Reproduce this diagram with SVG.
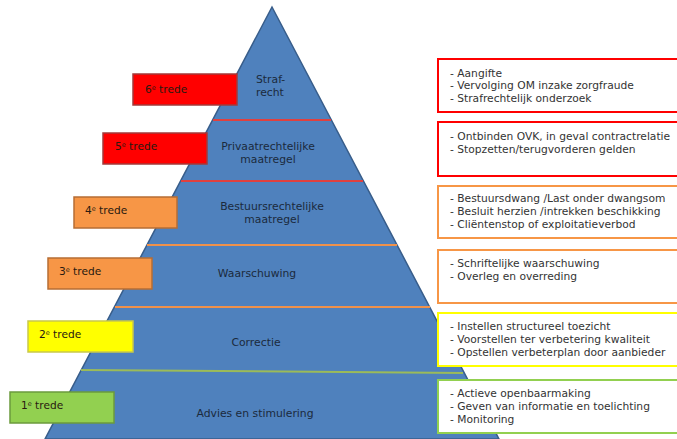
<svg xmlns="http://www.w3.org/2000/svg" width="677" height="439" viewBox="0 0 677 439">
<style>
  text { font-family: "DejaVu Sans", Verdana, sans-serif; }
  .tier { font-size: 10.8px; fill: #1b2a3c; text-anchor: middle; }
  .tag { font-size: 10.6px; fill: #2a1a10; }
  .sup { font-size: 6.5px; }
  .item { font-size: 10.7px; fill: #333333; }
  .box { fill: #ffffff; stroke-width: 2; }
</style>
<rect width="677" height="439" fill="#ffffff"/>
<g id="pyramid">
  <polygon points="272,7 45,439 499,439" fill="#4f81bd" stroke="#385d8a" stroke-width="1.5"/>
</g>
<g id="connectors">
  <line x1="213" y1="120" x2="331" y2="120" stroke="#e0403e" stroke-width="2"/>
  <line x1="181" y1="181" x2="363" y2="181" stroke="#e0403e" stroke-width="2"/>
  <line x1="147" y1="245" x2="397" y2="245" stroke="#f0914a" stroke-width="2"/>
  <line x1="115" y1="307" x2="430" y2="307" stroke="#f0914a" stroke-width="2"/>
  <line x1="81" y1="370" x2="463" y2="373" stroke="#9bbb59" stroke-width="2"/>
</g>
<g id="tier6">
  <text class="tier" x="256" y="83" style="text-anchor:start">Straf-</text>
  <text class="tier" x="256" y="96" style="text-anchor:start">recht</text>
</g>
<g id="tier5">
  <text class="tier" x="268" y="150">Privaatrechtelijke</text>
  <text class="tier" x="268" y="163">maatregel</text>
</g>
<g id="tier4">
  <text class="tier" x="272" y="210">Bestuursrechtelijke</text>
  <text class="tier" x="272" y="223">maatregel</text>
</g>
<g id="tier3"><text class="tier" x="257" y="277">Waarschuwing</text></g>
<g id="tier2"><text class="tier" x="256" y="346">Correctie</text></g>
<g id="tier1"><text class="tier" x="255" y="417">Advies en stimulering</text></g>

<g id="tag6">
  <rect x="133" y="74" width="104" height="31" fill="#ff0000" stroke="#a33a3a" stroke-width="1.5"/>
  <text class="tag" x="145" y="93">6<tspan class="sup" dy="-3.5">e</tspan><tspan dy="3.5"> trede</tspan></text>
</g>
<g id="tag5">
  <rect x="103" y="133" width="104" height="31" fill="#ff0000" stroke="#a33a3a" stroke-width="1.5"/>
  <text class="tag" x="115" y="150">5<tspan class="sup" dy="-3.5">e</tspan><tspan dy="3.5"> trede</tspan></text>
</g>
<g id="tag4">
  <rect x="74" y="197" width="103" height="31" fill="#f79646" stroke="#b66d34" stroke-width="1.5"/>
  <text class="tag" x="85" y="214">4<tspan class="sup" dy="-3.5">e</tspan><tspan dy="3.5"> trede</tspan></text>
</g>
<g id="tag3">
  <rect x="48" y="258" width="104" height="31" fill="#f79646" stroke="#b66d34" stroke-width="1.5"/>
  <text class="tag" x="59" y="275">3<tspan class="sup" dy="-3.5">e</tspan><tspan dy="3.5"> trede</tspan></text>
</g>
<g id="tag2">
  <rect x="28" y="321" width="105" height="31" fill="#ffff00" stroke="#c9c94a" stroke-width="1.5"/>
  <text class="tag" x="39" y="338">2<tspan class="sup" dy="-3.5">e</tspan><tspan dy="3.5"> trede</tspan></text>
</g>
<g id="tag1">
  <rect x="10" y="392" width="104" height="31" fill="#92d050" stroke="#6b9a3c" stroke-width="1.5"/>
  <text class="tag" x="21" y="409">1<tspan class="sup" dy="-3.5">e</tspan><tspan dy="3.5"> trede</tspan></text>
</g>

<g id="box6">
  <rect class="box" x="438" y="59" width="250" height="53" stroke="#ff0000"/>
  <text class="item" x="450" y="77">- Aangifte</text>
  <text class="item" x="450" y="89">- Vervolging OM inzake zorgfraude</text>
  <text class="item" x="450" y="102">- Strafrechtelijk onderzoek</text>
</g>
<g id="box5">
  <rect class="box" x="438" y="122" width="250" height="54" stroke="#ff0000"/>
  <text class="item" x="450" y="140">- Ontbinden OVK, in geval contractrelatie</text>
  <text class="item" x="450" y="153">- Stopzetten/terugvorderen gelden</text>
</g>
<g id="box4">
  <rect class="box" x="438" y="186" width="250" height="52" stroke="#f79646"/>
  <text class="item" x="450" y="202">- Bestuursdwang /Last onder dwangsom</text>
  <text class="item" x="450" y="215">- Besluit herzien /intrekken beschikking</text>
  <text class="item" x="450" y="228">- Cliëntenstop of exploitatieverbod</text>
</g>
<g id="box3">
  <rect class="box" x="438" y="250" width="250" height="53" stroke="#f79646"/>
  <text class="item" x="450" y="267">- Schriftelijke waarschuwing</text>
  <text class="item" x="450" y="280">- Overleg en overreding</text>
</g>
<g id="box2">
  <rect class="box" x="438" y="313" width="250" height="53" stroke="#ffff00"/>
  <text class="item" x="450" y="330">- Instellen structureel toezicht</text>
  <text class="item" x="450" y="343">- Voorstellen ter verbetering kwaliteit</text>
  <text class="item" x="450" y="356">- Opstellen verbeterplan door aanbieder</text>
</g>
<g id="box1">
  <rect class="box" x="438" y="380" width="250" height="53" stroke="#92d050"/>
  <text class="item" x="450" y="397">- Actieve openbaarmaking</text>
  <text class="item" x="450" y="410">- Geven van informatie en toelichting</text>
  <text class="item" x="450" y="423">- Monitoring</text>
</g>
</svg>
